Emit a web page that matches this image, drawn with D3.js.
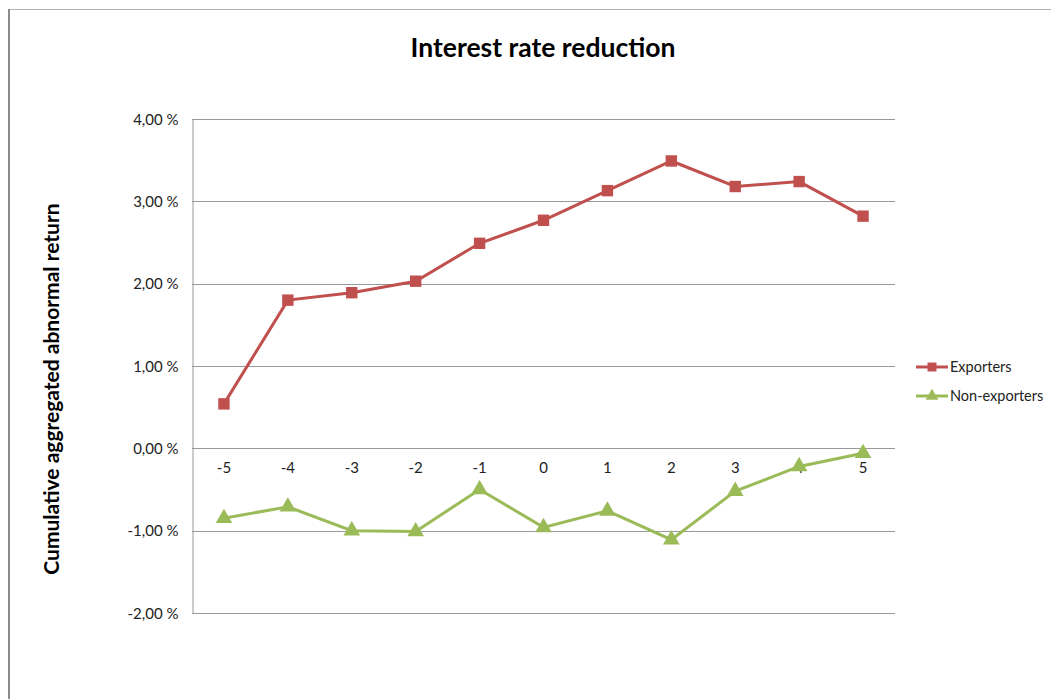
<!DOCTYPE html>
<html>
<head>
<meta charset="utf-8">
<script src="https://cdn.jsdelivr.net/npm/d3@7"></script>
<style>
  html, body { margin: 0; padding: 0; background: #fff; }
  svg { display: block; }
  text { font-family: Lato, "Open Sans", "Liberation Sans", sans-serif; }
</style>
</head>
<body>
<script>
// Event-window days and cumulative aggregated abnormal returns (in %)
const days = ["-5", "-4", "-3", "-2", "-1", "0", "1", "2", "3", "4", "5"];
const exporters = [0.54, 1.80, 1.89, 2.03, 2.49, 2.77, 3.13, 3.49, 3.18, 3.24, 2.82];
const nonExporters = [-0.85, -0.71, -1.00, -1.01, -0.50, -0.96, -0.76, -1.11, -0.52, -0.22, -0.06];
const yTicks = [-2, -1, 0, 1, 2, 3, 4];
const seriesNames = ["Exporters", "Non-exporters"];
const seriesColors = ["#C0504D", "#9BBB59"];

const W = 1051, H = 699;
const plot = { left: 192, right: 895, top: 119, bottom: 613 };

const svg = d3.select("body").append("svg").attr("width", W).attr("height", H);

// Outer chart frame (top and left edges)
svg.append("line").attr("x1", 9).attr("x2", W).attr("y1", 9.5).attr("y2", 9.5)
  .attr("stroke", "#b3b3b3").attr("stroke-width", 1);
svg.append("line").attr("x1", 9).attr("x2", 9).attr("y1", 9).attr("y2", H)
  .attr("stroke", "#8c8c8c").attr("stroke-width", 2);

const x = d3.scaleBand().domain(days).range([plot.left, plot.right]);
const y = d3.scaleLinear().domain([-2, 4]).range([plot.bottom, plot.top]);
// Comma decimal, plain hyphen for negatives, space before the percent sign
const fmt = v => (v < 0 ? "-" : "") + Math.abs(v).toFixed(2).replace(".", ",") + " %";

// Horizontal gridlines
svg.append("g").selectAll("line").data(yTicks).join("line")
  .attr("x1", plot.left).attr("x2", plot.right)
  .attr("y1", d => Math.round(y(d)) + 0.5).attr("y2", d => Math.round(y(d)) + 0.5)
  .attr("stroke", "#999").attr("stroke-width", 1);

// Y axis
const yAxis = svg.append("g").attr("transform", `translate(${plot.left + 0.5},0.5)`)
  .call(d3.axisLeft(y).tickValues(yTicks).tickFormat(fmt).tickSize(0).tickPadding(14));
yAxis.select(".domain").attr("stroke", "#999");
yAxis.selectAll("text").attr("font-size", 15).attr("fill", "#222");

// Category labels just below the zero line
const xAxis = svg.append("g").attr("transform", `translate(0,${y(0)})`)
  .call(d3.axisBottom(x).tickSize(0).tickPadding(14));
xAxis.select(".domain").remove();
xAxis.selectAll("text").attr("font-size", 15).attr("fill", "#222");

// Title and axis title
svg.append("text").attr("x", 543).attr("y", 57).attr("text-anchor", "middle")
  .attr("font-size", 26.5).attr("font-weight", "bold").attr("fill", "#000")
  .text("Interest rate reduction");
svg.append("text").attr("transform", "translate(59,389) rotate(-90)")
  .attr("text-anchor", "middle").attr("font-size", 21).attr("font-weight", "bold")
  .attr("fill", "#000").text("Cumulative aggregated abnormal return");

const line = d3.line().x((d, i) => x(days[i]) + x.bandwidth() / 2).y(d => y(d));
const sq = d3.symbol().type(d3.symbolSquare).size(130);
const tri = d3.symbol().type(d3.symbolTriangle).size(120);

// Exporters series
svg.append("path").datum(exporters).attr("d", line)
  .attr("fill", "none").attr("stroke", seriesColors[0]).attr("stroke-width", 3);
svg.append("g").selectAll("path").data(exporters).join("path")
  .attr("d", sq)
  .attr("transform", (d, i) => `translate(${x(days[i]) + x.bandwidth() / 2},${y(d)})`)
  .attr("fill", seriesColors[0]);

// Non-exporters series
svg.append("path").datum(nonExporters).attr("d", line)
  .attr("fill", "none").attr("stroke", seriesColors[1]).attr("stroke-width", 3);
svg.append("g").selectAll("path").data(nonExporters).join("path")
  .attr("d", tri)
  .attr("transform", (d, i) => `translate(${x(days[i]) + x.bandwidth() / 2},${y(d)})`)
  .attr("fill", seriesColors[1]);

// Legend
const legend = svg.append("g");
const legendY = [367, 396];
seriesNames.forEach((name, i) => {
  const g = legend.append("g").attr("transform", `translate(0,${legendY[i]})`);
  g.append("line").attr("x1", 916).attr("x2", 948).attr("y1", 0).attr("y2", 0)
    .attr("stroke", seriesColors[i]).attr("stroke-width", 3);
  g.append("path").attr("d", i === 0 ? d3.symbol().type(d3.symbolSquare).size(80)()
                                     : d3.symbol().type(d3.symbolTriangle).size(70)())
    .attr("transform", "translate(932,0)").attr("fill", seriesColors[i]);
  g.append("text").attr("x", 950).attr("y", 0).attr("dy", "0.35em")
    .attr("font-size", 14.5).attr("fill", "#222").text(name);
});
</script>
</body>
</html>
